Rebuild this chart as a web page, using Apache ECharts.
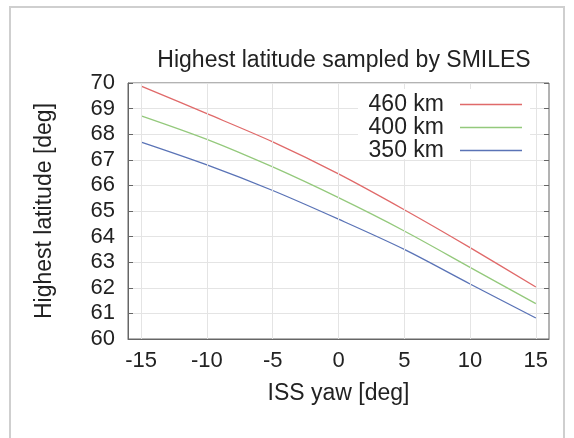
<!DOCTYPE html>
<html>
<head>
<meta charset="utf-8">
<script src="https://cdn.jsdelivr.net/npm/echarts@6/dist/echarts.min.js"></script>
<style>
  html, body { margin: 0; padding: 0; background: #fff; }
  #main { width: 574px; height: 438px; }
</style>
</head>
<body>
<div id="main"></div>
<script>
// ISS yaw [deg]
var yaw = [-15, -10, -5, 0, 5, 10, 15];
// highest latitude [deg] for each altitude
var lat460 = [69.88, 68.8, 67.7, 66.45, 65.05, 63.57, 62.03];
var lat400 = [68.72, 67.8, 66.72, 65.52, 64.22, 62.8, 61.38];
var lat350 = [67.69, 66.8, 65.8, 64.68, 63.5, 62.15, 60.82];
var names = ['460 km', '400 km', '350 km'];
var colors = ['#e06a6a', '#94c97c', '#5a73b6'];
var xTicks = [-15, -10, -5, 0, 5, 10, 15];

var font = 'Liberation Sans, Arial, sans-serif';

function pairs(xs, ys){
  var out = [];
  for(var i = 0; i < xs.length; i++){
    out.push([xs[i], ys[i]]);
  }
  return out;
}

function make_series(name, ys, color){
  return {
    name: name,
    type: 'line',
    xAxisIndex: 0,
    yAxisIndex: 0,
    z: 3,
    data: pairs(yaw, ys),
    smooth: 0.3,
    showSymbol: false,
    symbol: 'none',
    lineStyle: { color: color, width: 1.3 },
    itemStyle: { color: color },
    silent: true
  };
}

//vertical grid lines at the x tick values (splitLine ignores customValues)
function grid_lines(){
  var lines = [];
  for(var i = 0; i < xTicks.length; i++){
    lines.push({ xAxis: xTicks[i] });
  }
  return {
    name: 'xgrid',
    type: 'line',
    z: 1,
    data: pairs(yaw, lat460),
    symbol: 'none',
    lineStyle: { opacity: 0 },
    silent: true,
    markLine: {
      silent: true,
      symbol: ['none', 'none'],
      label: { show: false },
      lineStyle: { color: '#e4e4e4', width: 1, type: 'solid' },
      emphasis: { disabled: true },
      data: lines
    }
  };
}

var chart = echarts.init(document.getElementById('main'));
var tickStyle = { show: true, inside: true, length: 5, lineStyle: { color: '#666' } };

var option = {
  animation: false,
  backgroundColor: '#fff',
  graphic: [{
    type: 'rect',
    z: 0,
    silent: true,
    shape: { x: 10, y: 7, width: 554, height: 440 },
    style: { fill: 'none', stroke: '#cfcfcf', lineWidth: 2 }
  }, {
    // white box behind the key, hides the grid there
    type: 'rect',
    z: 10,
    silent: true,
    shape: { x: 358, y: 89, width: 172, height: 70 },
    style: { fill: '#fff' }
  }],
  title: {
    text: 'Highest latitude sampled by SMILES',
    left: 339,
    top: 44,
    textAlign: 'center',
    textStyle: { fontFamily: font, fontSize: 23, fontWeight: 'normal', color: '#222' }
  },
  legend: {
    z: 20,
    orient: 'vertical',
    right: 52,
    top: 93,
    padding: 0,
    align: 'right',
    itemGap: 0,
    itemWidth: 62,
    itemHeight: 1.5,
    icon: 'rect',
    data: names,
    textStyle: { fontFamily: font, fontSize: 23, color: '#222', lineHeight: 20, padding: [0, 11, 0, 0] }
  },
  grid: {
    left: 128, right: 25, top: 83, bottom: 99,
    show: true, borderColor: '#666', borderWidth: 1
  },
  xAxis: [{
    type: 'value',
    min: -16, max: 16,
    name: 'ISS yaw [deg]',
    nameLocation: 'middle',
    nameGap: 43,
    nameTextStyle: { fontFamily: font, fontSize: 23, color: '#222' },
    axisLine: { show: true, onZero: false, lineStyle: { color: '#666' } },
    axisTick: { show: true, inside: true, length: 5, lineStyle: { color: '#666' }, customValues: xTicks },
    axisLabel: { customValues: xTicks, margin: 11, fontFamily: font, fontSize: 22, color: '#222' },
    splitLine: { show: false }
  }, {
    type: 'value',
    position: 'top',
    min: -16, max: 16,
    axisLine: { show: false, onZero: false },
    axisTick: { show: true, inside: true, length: 5, lineStyle: { color: '#666' }, customValues: xTicks },
    axisLabel: { show: false },
    splitLine: { show: false }
  }],
  yAxis: [{
    type: 'value',
    min: 60, max: 70, interval: 1,
    name: 'Highest latitude [deg]',
    nameLocation: 'middle',
    nameGap: 72,
    nameTextStyle: { fontFamily: font, fontSize: 23, color: '#222' },
    axisLine: { show: true, onZero: false, lineStyle: { color: '#666' } },
    axisTick: tickStyle,
    axisLabel: { margin: 13, fontFamily: font, fontSize: 22, color: '#222' },
    splitLine: { show: true, lineStyle: { color: '#e4e4e4', width: 1 } }
  }, {
    type: 'value',
    position: 'right',
    min: 60, max: 70, interval: 1,
    axisLine: { show: false, onZero: false },
    axisTick: tickStyle,
    axisLabel: { show: false },
    splitLine: { show: false }
  }],
  series: [
    grid_lines(),
    make_series(names[0], lat460, colors[0]),
    make_series(names[1], lat400, colors[1]),
    make_series(names[2], lat350, colors[2])
  ]
};

chart.setOption(option);
</script>
</body>
</html>
